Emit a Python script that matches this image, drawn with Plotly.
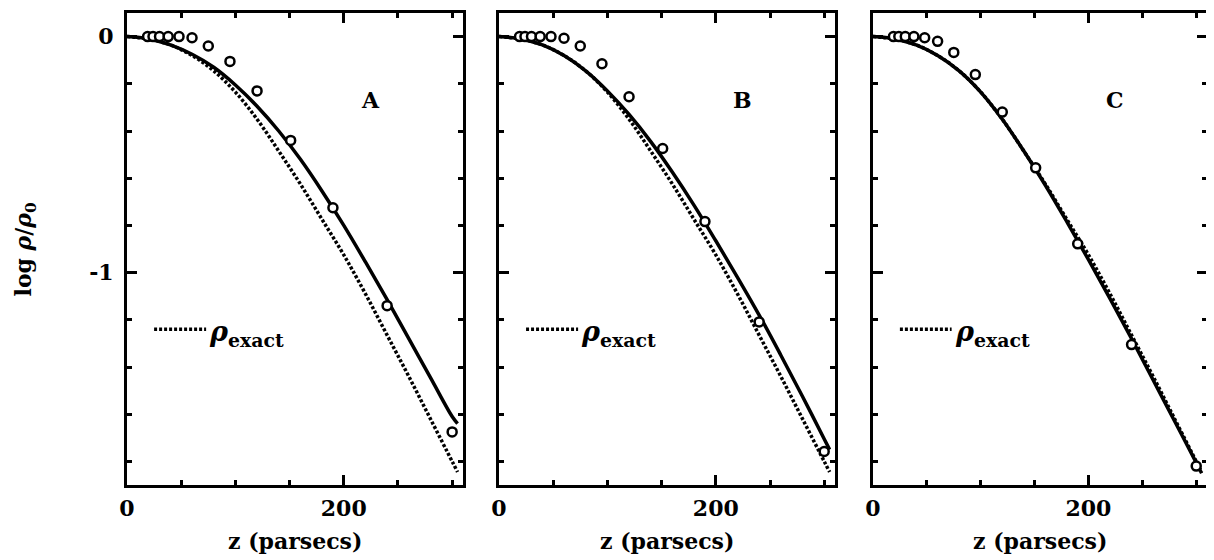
import plotly.graph_objects as go

# ---------------- data ----------------
z_curve = [0, 20, 40, 60, 80, 100, 120, 140, 160, 180, 200, 220, 240, 260, 280, 300, 305]

# exact density profile (dotted), same in all three panels
logrho_exact = [0, -0.01, -0.035, -0.08, -0.145, -0.235, -0.35, -0.485, -0.625,
                -0.775, -0.925, -1.09, -1.265, -1.44, -1.62, -1.80, -1.845]

# model profiles (solid)
logrho_A = [0, -0.01, -0.035, -0.075, -0.13, -0.205, -0.295, -0.40, -0.52,
            -0.655, -0.80, -0.955, -1.115, -1.28, -1.445, -1.61, -1.64]
logrho_B = [0, -0.01, -0.035, -0.08, -0.145, -0.23, -0.33, -0.445, -0.575,
            -0.715, -0.865, -1.02, -1.18, -1.35, -1.525, -1.705, -1.75]
logrho_C = [0, -0.01, -0.035, -0.08, -0.145, -0.235, -0.35, -0.485, -0.63,
            -0.785, -0.945, -1.11, -1.28, -1.455, -1.63, -1.805, -1.85]

# sampled points (open circles)
z_pts = [19, 24, 30, 38, 48, 60, 75, 95, 120, 151, 190, 240, 300]
pts_A = [0, 0, 0, 0, 0, -0.005, -0.04, -0.105, -0.23, -0.44, -0.725, -1.14, -1.675]
pts_B = [0, 0, 0, 0, 0, -0.007, -0.04, -0.115, -0.255, -0.474, -0.784, -1.209, -1.758]
pts_C = [0, 0, 0, 0, -0.005, -0.02, -0.067, -0.161, -0.32, -0.556, -0.878, -1.305, -1.82]

panel_labels = ["A", "B", "C"]
x_ticklabels = ["0", "200"]
y_ticklabels = ["0", "-1"]

# ---------------- figure ----------------
FONT = "DejaVu Serif"
fig = go.Figure()

models = [logrho_A, logrho_B, logrho_C]
points = [pts_A, pts_B, pts_C]
domains = [[0.0, 0.3111], [0.3444, 0.6556], [0.6907, 1.0]]

for i in range(3):
    xa = "x" if i == 0 else f"x{i+1}"
    ya = "y" if i == 0 else f"y{i+1}"
    fig.add_trace(go.Scatter(x=z_curve, y=logrho_exact, mode="lines",
                             line=dict(color="black", width=3.5, dash="3px,2px", shape="spline"),
                             xaxis=xa, yaxis=ya, showlegend=False, hoverinfo="skip"))
    fig.add_trace(go.Scatter(x=z_curve, y=models[i], mode="lines",
                             line=dict(color="black", width=3.5, shape="spline"),
                             xaxis=xa, yaxis=ya, showlegend=False))
    fig.add_trace(go.Scatter(x=z_pts, y=points[i], mode="markers",
                             marker=dict(symbol="circle", size=9, color="white",
                                         line=dict(color="black", width=2.5)),
                             xaxis=xa, yaxis=ya, showlegend=False))

axis_common = dict(showline=True, linewidth=3, linecolor="black", mirror="allticks",
                   ticks="inside", ticklen=10, tickwidth=3, tickcolor="black",
                   showgrid=False, zeroline=False,
                   tickfont=dict(family=FONT, size=22, color="black", weight="bold"))

# the page body adds an 8px offset, so the figure is 8px smaller on each axis
layout = dict(width=1206, height=552, margin=dict(l=119, r=7, t=2, b=75),
              paper_bgcolor="white", plot_bgcolor="white", showlegend=False)

annotations = []
for i in range(3):
    xk = "xaxis" if i == 0 else f"xaxis{i+1}"
    yk = "yaxis" if i == 0 else f"yaxis{i+1}"
    xref = "x" if i == 0 else f"x{i+1}"
    yref = "y" if i == 0 else f"y{i+1}"
    layout[xk] = dict(axis_common, domain=domains[i], range=[0, 310],
                      tickvals=[0, 200], ticktext=x_ticklabels,
                      ticklabelstandoff=2,
                      minor=dict(dtick=50, tick0=0, ticks="inside", ticklen=5,
                                 tickwidth=3, tickcolor="black"),
                      anchor=yref)
    layout[yk] = dict(axis_common, domain=[0, 1], range=[-1.9, 0.1],
                      tickvals=[0, -1], ticktext=y_ticklabels,
                      showticklabels=(i == 0), ticklabelstandoff=6,
                      minor=dict(dtick=0.2, tick0=0, ticks="inside", ticklen=5,
                                 tickwidth=3, tickcolor="black"),
                      anchor=xref)
    # panel letter
    annotations.append(dict(x=225, y=-0.27, xref=xref, yref=yref, text=f"<b>{panel_labels[i]}</b>",
                            showarrow=False, font=dict(family=FONT, size=22, color="black")))
    # x title
    annotations.append(dict(x=sum(domains[i]) / 2, y=-0.118, xref="paper", yref="paper",
                            text="<b>z (parsecs)</b>", showarrow=False,
                            xanchor="center", yanchor="middle",
                            font=dict(family=FONT, size=22, color="black")))
    # legend key
    annotations.append(dict(x=74, y=-1.26, xref=xref, yref=yref,
                            text="<b><i>\u03c1</i><sub>exact</sub></b>", showarrow=False,
                            xanchor="left", yanchor="middle",
                            font=dict(family=FONT, size=27, color="black")))

shapes = []
for i in range(3):
    xref = "x" if i == 0 else f"x{i+1}"
    yref = "y" if i == 0 else f"y{i+1}"
    shapes.append(dict(type="line", xref=xref, yref=yref, x0=25, x1=73, y0=-1.24, y1=-1.24,
                       line=dict(color="black", width=3.5, dash="3px,2px")))

annotations.append(dict(x=-0.094, y=0.5, xref="paper", yref="paper",
                        text="<b>log <i>\u03c1</i>/<i>\u03c1</i><sub>0</sub></b>",
                        textangle=-90, showarrow=False, xanchor="center", yanchor="middle",
                        font=dict(family=FONT, size=22, color="black")))

layout["annotations"] = annotations
layout["shapes"] = shapes
fig.update_layout(**layout)

fig.write_html("out.html")
